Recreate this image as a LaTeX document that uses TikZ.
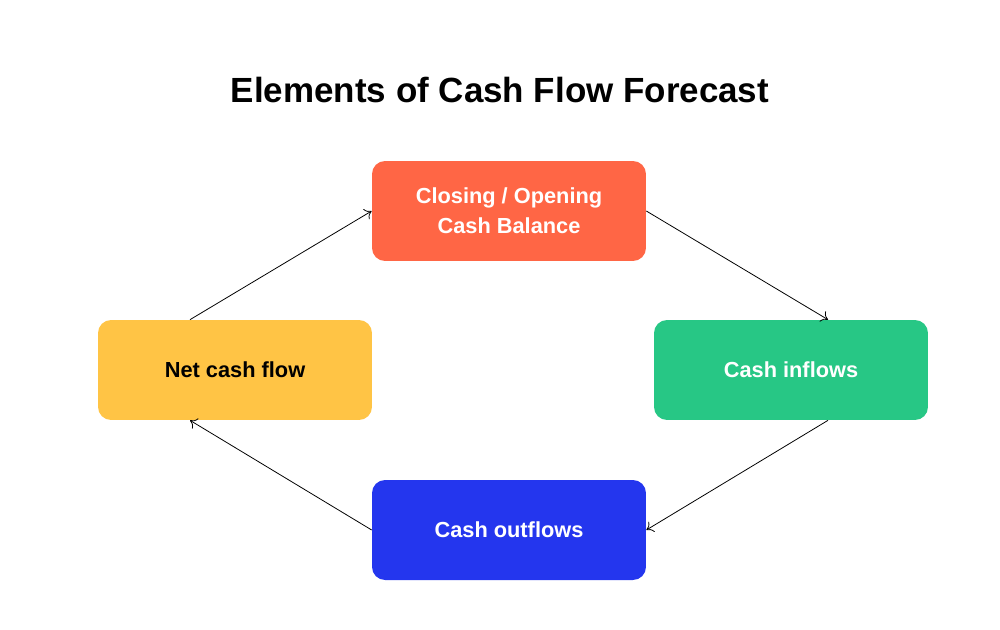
\documentclass[tikz,border=0pt]{standalone}
\usepackage{fontspec}
\setmainfont{Liberation Sans}
\usepackage{tikz}
\usetikzlibrary{positioning}
\usetikzlibrary{arrows.meta}

\definecolor{balcol}{HTML}{FF6645}
\definecolor{netcol}{HTML}{FFC445}
\definecolor{incol}{HTML}{27C785}
\definecolor{outcol}{HTML}{2436EE}

\tikzset{
    elem/.style = {rounded corners=0.26cm, minimum width=5.48cm, minimum height=2cm, align=center,
                   font=\fontsize{12.4}{17}\selectfont\bfseries, inner sep=0pt},
    flow/.style = {-{To[length=1.3mm,width=2.4mm]}, line width=0.45pt}
}

\begin{document}
\begin{tikzpicture}[x=0.02cm, y=-0.02cm]
    \useasboundingbox (0,0) rectangle (1000,629);
    \node (title) at (500,90) {\fontsize{19.9}{24}\selectfont\bfseries Elements of Cash Flow Forecast};
    \node[elem, fill=balcol, text=white] (bal) at (509,211) {Closing / Opening\\Cash Balance};
    \node[elem, fill=netcol, text=black] (net) at (235,370) {Net cash flow};
    \node[elem, fill=incol, text=white] (in) at (791,370) {Cash inflows};
    \node[elem, fill=outcol, text=white] (out) at (509,530) {Cash outflows};
    % connectors round the cycle
    \draw[flow] ([xshift=-0.9cm]net.north) -- (bal.west);
    \draw[flow] (bal.east) -- ([xshift=0.74cm]in.north);
    \draw[flow] ([xshift=0.74cm]in.south) -- (out.east);
    \draw[flow] (out.west) -- ([xshift=-0.9cm]net.south);
\end{tikzpicture}
\end{document}
